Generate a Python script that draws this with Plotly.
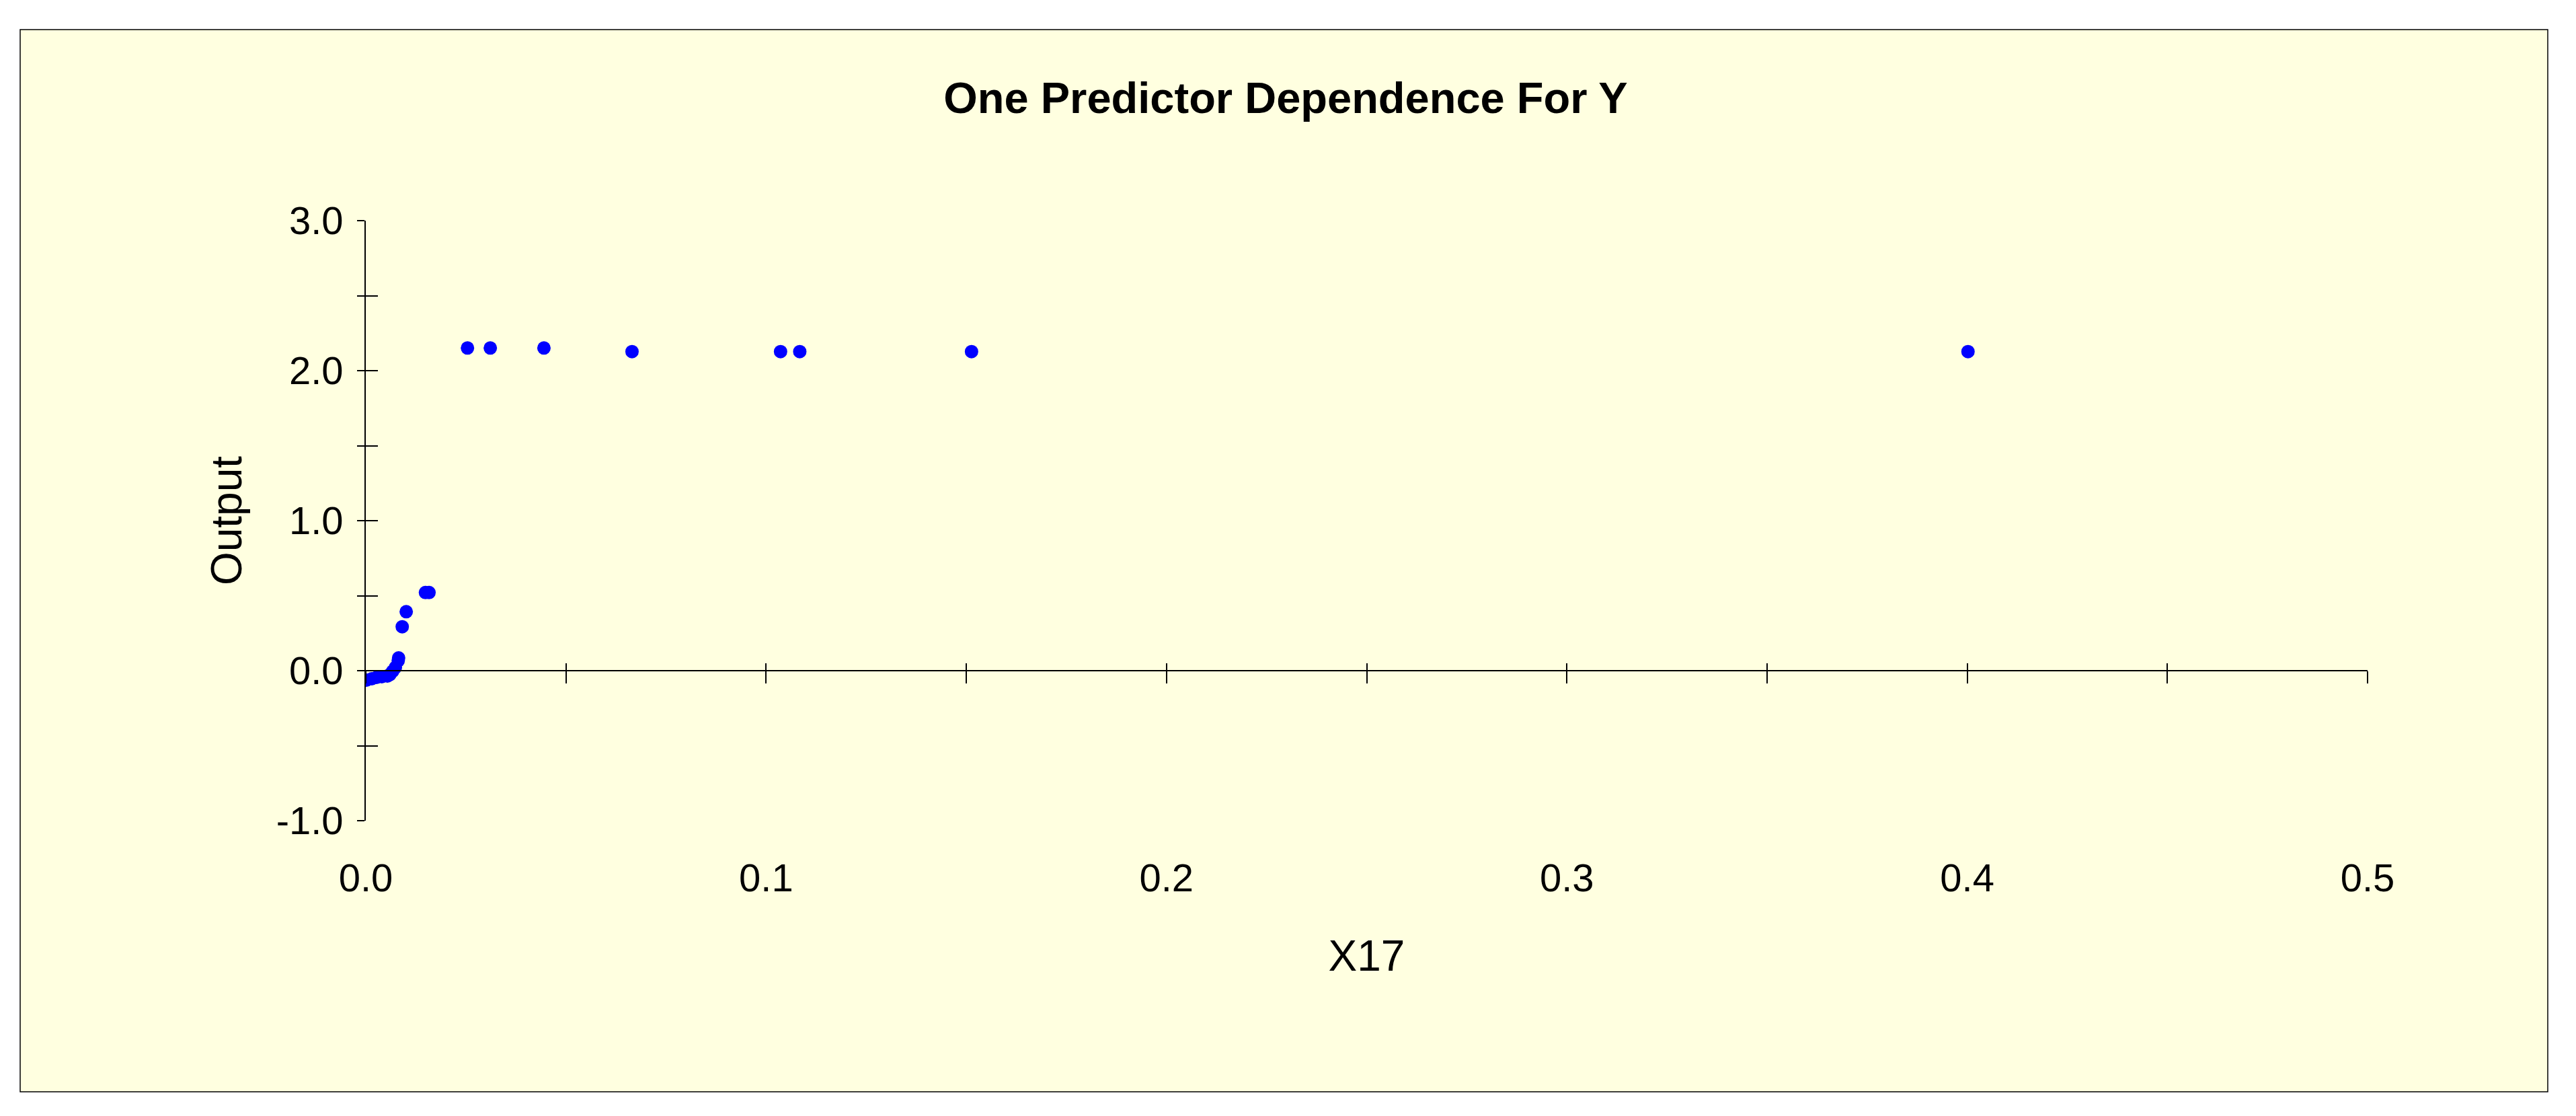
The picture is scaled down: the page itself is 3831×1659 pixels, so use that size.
import plotly.graph_objects as go

# ---- data ----
x17 = [0.0002, 0.0015, 0.0027, 0.0040, 0.0054, 0.0060, 0.0067, 0.0074, 0.0081,
       0.0082, 0.0091, 0.0101, 0.0149, 0.0158, 0.0254, 0.0311, 0.0445, 0.0665,
       0.1036, 0.1084, 0.1513, 0.4002]
output = [-0.063, -0.054, -0.045, -0.040, -0.036, -0.027, -0.004, 0.022, 0.067,
          0.085, 0.293, 0.393, 0.521, 0.521, 2.151, 2.151, 2.151, 2.127,
          2.127, 2.127, 2.127, 2.127]

x_tickvals = [0.0, 0.1, 0.2, 0.3, 0.4, 0.5]
x_ticktext = ["0.0", "0.1", "0.2", "0.3", "0.4", "0.5"]
y_tickvals = [-1, 0, 1, 2, 3]
y_ticktext = ["-1.0", "0.0", "1.0", "2.0", "3.0"]

title_text = "One Predictor Dependence For Y"
x_title = "X17"
y_title = "Output"

# ---- geometry ----
W, H = 3831, 1659
L, R, T, B = 544, 3831 - 3521, 328, 1659 - 1220
PW, PH = W - L - R, H - T - B

FONT = "Liberation Sans, Arial, sans-serif"
BG = "#FFFFE0"
TICKFONT = dict(family=FONT, size=58, color="black")
TITLEFONT = dict(family=FONT, size=64, color="black")

fig = go.Figure()
fig.add_trace(go.Scatter(x=x17, y=output, mode="markers", xaxis="x", yaxis="y",
                         marker=dict(color="#0000FF", size=20, line=dict(width=0)),
                         showlegend=False, hoverinfo="x+y"))
fig.add_trace(go.Scatter(x=[], y=[], xaxis="x2", yaxis="y2", showlegend=False, hoverinfo="skip"))
fig.add_trace(go.Scatter(x=[], y=[], xaxis="x3", yaxis="y", showlegend=False, hoverinfo="skip"))

common = dict(showgrid=False, zeroline=False, color="black")

fig.update_layout(
    width=W, height=H,
    margin=dict(l=L, r=R, t=T, b=B, pad=0),
    paper_bgcolor="white", plot_bgcolor=BG,
    font=dict(family=FONT, color="black", size=58),
    title=dict(text="<b>" + title_text + "</b>", xref="container", yref="container",
               x=1912 / W, y=1 - 145 / H, xanchor="center", yanchor="middle",
               font=dict(family=FONT, size=65, color="black")),
    xaxis=dict(range=[0, 0.5], anchor="free", position=0.25, showline=True,
               linecolor="black", linewidth=1.5, ticks="outside", ticklen=18,
               tickwidth=1.5, tickcolor="black", dtick=0.05, tick0=0,
               showticklabels=False, **common),
    xaxis2=dict(range=[0, 0.5], overlaying="x", anchor="free", position=0.25,
                showline=False, ticks="inside", ticklen=11, tickwidth=1.5,
                tickcolor="black", dtick=0.05, tick0=0, showticklabels=False, **common),
    xaxis3=dict(range=[0, 0.5], overlaying="x", anchor="y", side="bottom",
                showline=False, ticks="", tickmode="array", tickvals=x_tickvals,
                ticktext=x_ticktext, ticklabelstandoff=46, tickfont=TICKFONT,
                title=dict(text=x_title, standoff=62, font=TITLEFONT),
                **common),
    yaxis=dict(range=[-1, 3], anchor="x", showline=True, linecolor="black",
               linewidth=1.5, ticks="outside", ticklen=11, tickwidth=1.5,
               tickcolor="black", tickmode="array", tickvals=y_tickvals,
               ticktext=y_ticktext, ticklabelstandoff=9,
               minor=dict(dtick=0.5, tick0=0, ticks="outside", ticklen=11,
                          tickwidth=1.5, tickcolor="black", showgrid=False),
               tickfont=TICKFONT,
               title=dict(text=y_title, standoff=30, font=TITLEFONT),
               **common),
    yaxis2=dict(range=[-1, 3], overlaying="y", anchor="x", showline=False,
                ticks="inside", ticklen=18, tickwidth=1.5, tickcolor="black",
                dtick=0.5, tick0=0, showticklabels=False, **common),
    shapes=[dict(type="rect", xref="paper", yref="paper", layer="below",
                 x0=(30 - L) / PW, x1=(3789 - L) / PW,
                 y0=(1220 - 1623) / PH, y1=(1220 - 44) / PH,
                 fillcolor=BG, line=dict(color="black", width=1.5))],
)

fig.write_html("out.html", config={"displayModeBar": False},
               post_script="document.body.style.margin='0';document.body.style.overflow='hidden';")
